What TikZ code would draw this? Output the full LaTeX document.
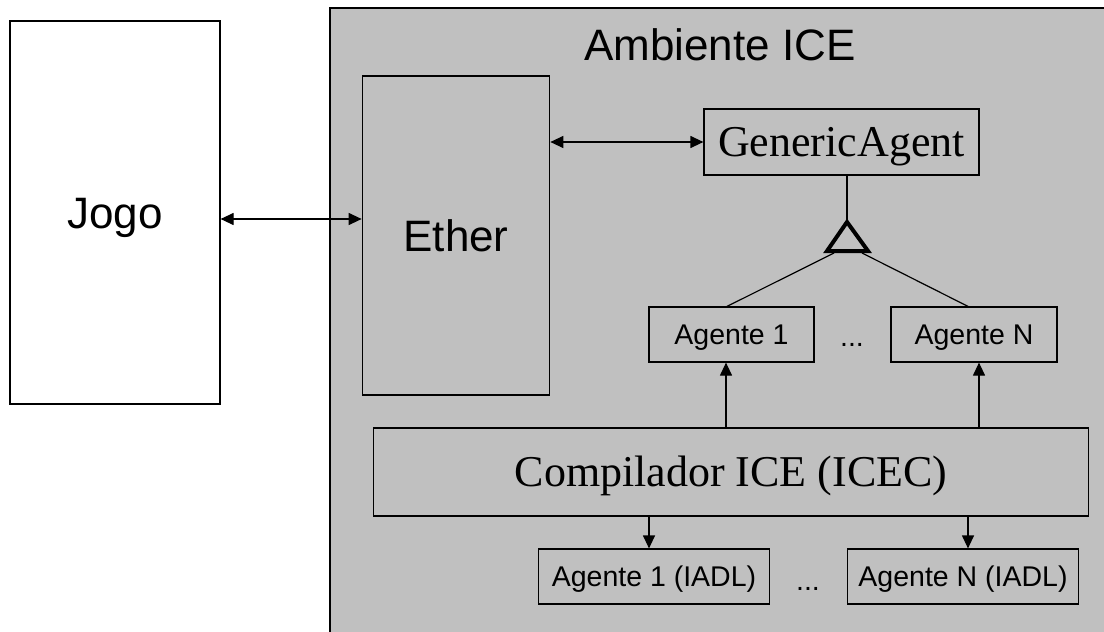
\documentclass[tikz,border=0pt]{standalone}
\usepackage{fontspec}
\setmainfont{Liberation Serif}
\newfontfamily\sansfont{Liberation Sans}
\usetikzlibrary{arrows.meta}
\definecolor{envgray}{HTML}{C0C0C0}
\begin{document}
\begin{tikzpicture}[x=1pt,y=-1pt,
  box/.style={draw, line width=1.2pt, inner sep=0pt},
  graybox/.style={box, fill=envgray},
  bigsans/.style={font=\sansfont\fontsize{44}{50}\selectfont, text height=31.5pt, text depth=0pt},
  smallsans/.style={font=\sansfont\fontsize{28.5}{32}\selectfont, text height=20.4pt, text depth=0pt},
  bigserif/.style={font=\fontsize{44}{50}\selectfont, text height=29pt, text depth=0pt},
  link/.style={line width=1.2pt},
  arr/.style={link, -{Triangle[length=13pt,width=12pt]}},
  dblarr/.style={link, {Triangle[length=13pt,width=12pt]}-{Triangle[length=13pt,width=12pt]}}]
\useasboundingbox (0,0) rectangle (1104,632);

% environment panel (runs off the right and bottom edges)
\fill[envgray] (330,8) rectangle (1104,632);
\draw[line width=1.2pt] (330,632) -- (330,8) -- (1104,8);
\node[font=\sansfont\fontsize{44}{50}\selectfont, anchor=base] (title) at (720,60) {Ambiente ICE};

% game
\node[box, fill=white, minimum width=210pt, minimum height=383pt, bigsans] (jogo) at (115,212.5) {Jogo};

% environment components
\node[graybox, minimum width=187.5pt, minimum height=319pt, bigsans] (ether) at (456,235.5) {Ether};
\node[graybox, minimum width=275pt, minimum height=66pt, bigserif] (generic) at (841.5,142) {GenericAgent};
\node[graybox, minimum width=165pt, minimum height=55pt, smallsans] (ag1) at (731.5,334.5) {Agente 1};
\node[graybox, minimum width=166pt, minimum height=55pt, smallsans] (agN) at (974,334.5) {Agente N};
\node[font=\sansfont\fontsize{28.5}{32}\selectfont, anchor=base] (dots1) at (852,346) {...};
\node[graybox, minimum width=715.5pt, minimum height=88pt, bigserif] (comp) at (731,472) {Compilador ICE (ICEC)};
\node[graybox, minimum width=231.5pt, minimum height=55pt, smallsans] (iadl1) at (654,576.5) {Agente 1 (IADL)};
\node[graybox, minimum width=231.5pt, minimum height=55pt, smallsans] (iadlN) at (963,576.5) {Agente N (IADL)};
\node[font=\sansfont\fontsize{28.5}{32}\selectfont, anchor=base] (dots2) at (808,590) {...};

% connector guides
\coordinate (ya) at (0,219);
\coordinate (tA) at (847,222);
\coordinate (tL) at (827,251);
\coordinate (tR) at (868,251);
\coordinate (tBL) at (834,253);
\coordinate (tBR) at (862,253);
\coordinate (u1) at (726,0);
\coordinate (u2) at (979,0);
\coordinate (d1) at (649,0);
\coordinate (d2) at (968,0);

% game <-> ether <-> generic agent
\draw[dblarr] (jogo.east |- ya) -- (ether.west |- ya);
\draw[dblarr] (ether.east |- generic.west) -- (generic.west);

% inheritance
\draw[link] (tA |- generic.south) -- (tA);
\draw[line width=4pt, line join=miter] (tA) -- (tL) -- (tR) -- cycle;
\draw[link] (tBL) -- ([xshift=-4.5pt]ag1.north);
\draw[link] (tBR) -- ([xshift=-6pt]agN.north);

% compiler outputs
\draw[arr] (u1 |- comp.north) -- (u1 |- ag1.south);
\draw[arr] (u2 |- comp.north) -- (u2 |- agN.south);
\draw[arr] (d1 |- comp.south) -- (d1 |- iadl1.north);
\draw[arr] (d2 |- comp.south) -- (d2 |- iadlN.north);
\end{tikzpicture}
\end{document}
